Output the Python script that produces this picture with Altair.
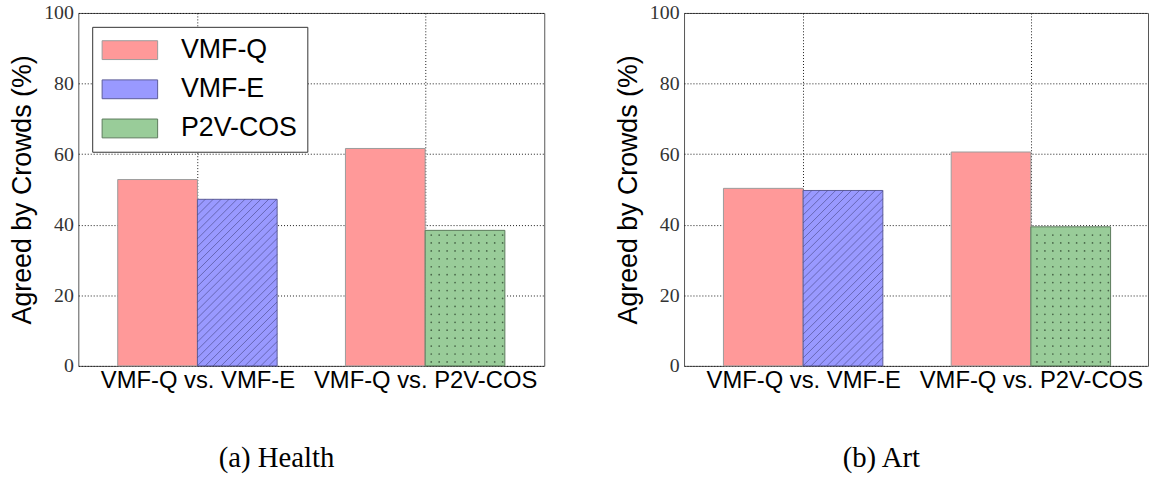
import altair as alt
import pandas as pd
import numpy as np

# ---------------- data ----------------
PANELS = ["(a) Health", "(b) Art"]
GROUPS = ["VMF-Q vs. VMF-E", "VMF-Q vs. P2V-COS"]
METHODS = ["VMF-Q", "VMF-E", "P2V-COS"]
PAIRS = [["VMF-Q", "VMF-E"], ["VMF-Q", "P2V-COS"]]
HEALTH = [[52.8, 47.2], [61.6, 38.4]]
ART = [[50.3, 49.7], [60.6, 39.4]]
PANEL_VALUES = [HEALTH, ART]
Y_TICKS = [0, 20, 40, 60, 80, 100]

# ---------------- style ----------------
FILLS = ["#ff9999", "#9999ff", "#99cc99"]
STROKES = ["#9c9c9c", "#5c5c99", "#5c7a5c"]
HATCH_LINE = "#3f3f7a"
HATCH_DOT = "#3f5a3f"
BAR_W = 0.35
XMIN, XMAX = -0.523, 1.523
W, H = 470, 356
W_RIGHT = 468
SX = W / (XMAX - XMIN)      # px per x unit
SY = H / 100.0              # px per y unit
HATCH_STEP = 8.0            # px

SANS = "Liberation Sans"
SERIF = "Liberation Serif"


def bars_frame(values):
    rows = []
    for g, (pair, vals) in enumerate(zip(PAIRS, values)):
        for slot, (m, v) in enumerate(zip(pair, vals)):
            x0 = g - BAR_W + slot * BAR_W
            rows.append({"group": g, "method": m, "value": v,
                         "x0": x0, "x1": x0 + BAR_W})
    return pd.DataFrame(rows)


def hatch_lines(df):
    segs = []
    for _, r in df[df.method == "VMF-E"].iterrows():
        px0, px1 = (r.x0 - XMIN) * SX, (r.x1 - XMIN) * SX
        pv = r.value * SY
        cmin = int(np.floor(-px1 / HATCH_STEP)) - 1
        cmax = int(np.ceil((pv - px0) / HATCH_STEP)) + 1
        for m in range(cmin, cmax + 1):
            c = m * HATCH_STEP
            lo = max(px0, -c)
            hi = min(px1, pv - c)
            if hi - lo > 0.5:
                segs.append({"xa": XMIN + lo / SX, "ya": (lo + c) / SY,
                             "xb": XMIN + hi / SX, "yb": (hi + c) / SY})
    return pd.DataFrame(segs, columns=["xa", "ya", "xb", "yb"])


def hatch_dots(df):
    pts = []
    for _, r in df[df.method == "P2V-COS"].iterrows():
        px0, px1 = (r.x0 - XMIN) * SX, (r.x1 - XMIN) * SX
        pv = r.value * SY
        for i in range(int(px0 // HATCH_STEP), int(px1 // HATCH_STEP) + 2):
            px = i * HATCH_STEP + HATCH_STEP / 2
            if px < px0 + 2 or px > px1 - 2:
                continue
            for j in range(0, int(pv // HATCH_STEP) + 2):
                py = j * HATCH_STEP + HATCH_STEP / 2
                if py > pv - 2:
                    continue
                pts.append({"xp": XMIN + px / SX, "yp": py / SY})
    return pd.DataFrame(pts, columns=["xp", "yp"])


label_expr = "[" + ",".join("'" + g + "'" for g in GROUPS) + "][datum.value]"


def panel(title, values, width, xmax):
    df = bars_frame(values)
    xs = alt.Scale(domain=[XMIN, xmax], nice=False, zero=False)
    ys = alt.Scale(domain=[0, 100], nice=False)
    x_axis = alt.Axis(values=[0, 1], labelExpr=label_expr, title=None,
                      grid=True, gridColor="black", gridDash=[1, 2],
                      gridWidth=1, gridOpacity=0.9, tickSize=0, domain=False,
                      labelFont=SANS, labelFontSize=24, labelColor="black",
                      labelPadding=3, labelOverlap=False, labelFlush=False,
                      labelLimit=0)
    y_axis = alt.Axis(values=Y_TICKS, title="Agreed by Crowds (%)",
                      grid=True, gridColor="black", gridDash=[1, 2],
                      gridWidth=1, gridOpacity=0.9, tickSize=0, domain=False,
                      labelFont=SERIF, labelFontSize=20, labelColor="#333333",
                      labelPadding=5, titleFont=SANS, titleFontSize=27,
                      titleFontWeight="normal", titleColor="black",
                      titlePadding=7)
    legend = alt.Legend(orient="none", legendX=14, legendY=14, title=None,
                        symbolType="M-2.947,-1H2.947V1H-2.947Z",
                        symbolSize=361, symbolStrokeWidth=1,
                        symbolOffset=14.5, labelOffset=38,
                        labelFont=SANS, labelFontSize=27, labelColor="black",
                        rowPadding=11.5, padding=10, strokeColor="#333333",
                        fillColor="white", cornerRadius=0, symbolOpacity=1,
                        labelLimit=0)
    bars = alt.Chart(df).mark_bar(strokeWidth=1, opacity=1).encode(
        x=alt.X("x0:Q", scale=xs, axis=x_axis),
        x2="x1:Q",
        y=alt.Y("value:Q", scale=ys, axis=y_axis),
        y2=alt.datum(0),
        fill=alt.Fill("method:N", scale=alt.Scale(domain=METHODS, range=FILLS),
                      legend=legend),
        stroke=alt.Stroke("method:N",
                          scale=alt.Scale(domain=METHODS, range=STROKES),
                          legend=legend),
    )
    lines = alt.Chart(hatch_lines(df)).mark_rule(
        color=HATCH_LINE, strokeWidth=0.7, opacity=0.8).encode(
        x=alt.X("xa:Q", scale=xs), y=alt.Y("ya:Q", scale=ys),
        x2="xb:Q", y2="yb:Q")
    dots = alt.Chart(hatch_dots(df)).mark_circle(
        color=HATCH_DOT, size=3, opacity=0.9).encode(
        x=alt.X("xp:Q", scale=xs), y=alt.Y("yp:Q", scale=ys))
    return alt.layer(bars, lines, dots).properties(
        width=width, height=H,
        title=alt.TitleParams(title, orient="bottom", anchor="middle",
                              frame="bounds", font=SERIF, fontSize=29,
                              fontWeight="normal", color="black", offset=52),
    )


left = panel(PANELS[0], PANEL_VALUES[0], W, XMAX)
right = panel(PANELS[1], PANEL_VALUES[1], W_RIGHT, XMIN + W_RIGHT / SX)

chart = alt.hconcat(left, right, spacing=69).properties(
    padding={"left": 8, "top": 0, "right": 0, "bottom": 0},
    background="white",
).configure_view(stroke="#555555", strokeWidth=1)

chart.save("out.html", embed_options={"renderer": "svg", "actions": False})
